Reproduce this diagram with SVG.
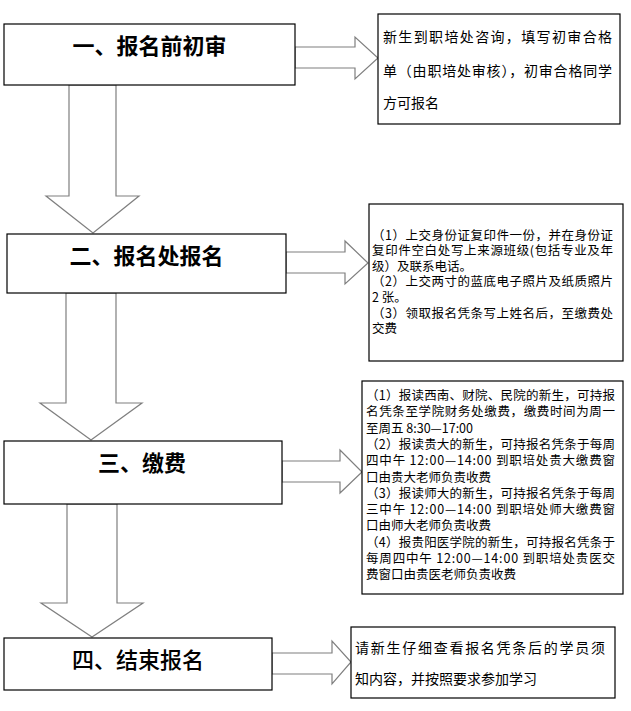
<svg xmlns="http://www.w3.org/2000/svg" width="631" height="711" viewBox="0 0 631 711">
<style>
.box{fill:#fff;stroke:#000;stroke-width:1.2}
.arr{fill:#fff;stroke:#7f7f7f;stroke-width:1.2}
.title{font-family:"Noto Sans CJK SC","Noto Sans CJK TC",sans-serif;font-size:22px;font-weight:bold;fill:#000;text-anchor:middle}
.t14{font-family:"Noto Sans CJK SC","Noto Sans CJK TC",sans-serif;font-size:14px;fill:#000}
.t13{font-family:"Noto Sans CJK SC","Noto Sans CJK TC",sans-serif;font-size:12.5px;fill:#000}
</style>
<rect width="631" height="711" fill="#fff"/>
<g id="connectors">
<polygon class="arr" points="295,47 355,47 355,37 378,58 355,79 355,68 295,68"/>
<polygon class="arr" points="286,252 345,252 345,241 368,263 345,284 345,273 286,273"/>
<polygon class="arr" points="282,461 340,461 340,450 362,472 340,493 340,482 282,482"/>
<polygon class="arr" points="272,653 332,653 332,641 351,662 332,684 332,674 272,674"/>
<polygon class="arr" points="69,85 116,85 116,196 139,196 93,233 46,196 69,196"/>
<polygon class="arr" points="66,293 116,293 116,403 142,403 91,440 40,403 66,403"/>
<polygon class="arr" points="67,504 117,504 117,603 143,603 92,637 41,603 67,603"/>
</g>
<g id="step1">
<rect class="box" x="4" y="24" width="291" height="61"/>
<text class="title" x="149.5" y="54">一、报名前初审</text>
</g>
<g id="note1">
<rect class="box" x="378" y="14" width="242" height="110"/>
<text class="t14" x="383" y="42" textLength="229" lengthAdjust="spacing">新生到职培处咨询，填写初审合格</text>
<text class="t14" x="383" y="76" textLength="229" lengthAdjust="spacing">单（由职培处审核），初审合格同学</text>
<text class="t14" x="383" y="108">方可报名</text>
</g>
<g id="step2">
<rect class="box" x="7" y="234" width="279" height="59"/>
<text class="title" x="146.5" y="264">二、报名处报名</text>
</g>
<g id="note2">
<rect class="box" x="369" y="204" width="254" height="157"/>
<text class="t13" x="372" y="239.5" textLength="241" lengthAdjust="spacing">（1）上交身份证复印件一份，并在身份证</text>
<text class="t13" x="372" y="255" textLength="241" lengthAdjust="spacing">复印件空白处写上来源班级(包括专业及年</text>
<text class="t13" x="372" y="270.5">级）及联系电话。</text>
<text class="t13" x="372" y="286" textLength="241" lengthAdjust="spacing">（2）上交两寸的蓝底电子照片及纸质照片</text>
<text class="t13" x="372" y="302">2 张。</text>
<text class="t13" x="372" y="317.5" textLength="241" lengthAdjust="spacing">（3）领取报名凭条写上姓名后，至缴费处</text>
<text class="t13" x="372" y="333">交费</text>
</g>
<g id="step3">
<rect class="box" x="4" y="441" width="278" height="63"/>
<text class="title" x="142" y="471">三、缴费</text>
</g>
<g id="note3">
<rect class="box" x="362" y="381" width="261" height="213"/>
<text class="t13" x="366" y="400" textLength="249" lengthAdjust="spacing">（1）报读西南、财院、民院的新生，可持报</text>
<text class="t13" x="366" y="416.3" textLength="249" lengthAdjust="spacing">名凭条至学院财务处缴费，缴费时间为周一</text>
<text class="t13" x="366" y="432.6">至周五 8:30—17:00</text>
<text class="t13" x="366" y="448.9" textLength="249" lengthAdjust="spacing">（2）报读贵大的新生，可持报名凭条于每周</text>
<text class="t13" x="366" y="465.2" textLength="249" lengthAdjust="spacing">四中午 12:00—14:00 到职培处贵大缴费窗</text>
<text class="t13" x="366" y="481.5">口由贵大老师负责收费</text>
<text class="t13" x="366" y="497.8" textLength="249" lengthAdjust="spacing">（3）报读师大的新生，可持报名凭条于每周</text>
<text class="t13" x="366" y="514.1" textLength="249" lengthAdjust="spacing">三中午 12:00—14:00 到职培处师大缴费窗</text>
<text class="t13" x="366" y="530.4">口由师大老师负责收费</text>
<text class="t13" x="366" y="546.7" textLength="249" lengthAdjust="spacing">（4）报贵阳医学院的新生，可持报名凭条于</text>
<text class="t13" x="366" y="563" textLength="249" lengthAdjust="spacing">每周四中午 12:00—14:00 到职培处贵医交</text>
<text class="t13" x="366" y="579.3">费窗口由贵医老师负责收费</text>
</g>
<g id="step4">
<rect class="box" x="4" y="638" width="268" height="52"/>
<text class="title" x="138" y="668" style="font-weight:500">四、结束报名</text>
</g>
<g id="note4">
<rect class="box" x="351" y="627" width="264" height="71"/>
<text class="t14" x="355" y="653" textLength="250" lengthAdjust="spacing">请新生仔细查看报名凭条后的学员须</text>
<text class="t14" x="355" y="684">知内容，并按照要求参加学习</text>
</g>
</svg>
